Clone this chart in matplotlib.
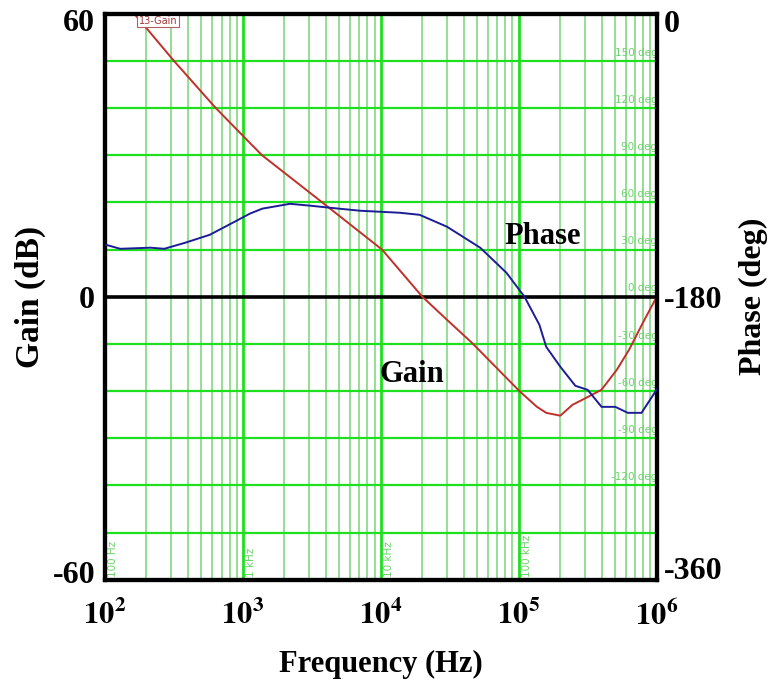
import matplotlib.pyplot as plt
import matplotlib.transforms as mtransforms
import numpy as np

plt.rcParams['mathtext.fontset'] = 'stix'

# loop gain, dB
gain_f = [163, 316, 631, 906, 1150, 1375, 3720, 10200, 20000, 30200, 45700,
          69200, 102000, 135000, 158000, 200000, 245000, 309000, 398000,
          513000, 631000, 794000, 1000000]
gain_db = [60, 50, 40.1, 35.4, 32.3, 30, 20.1, 10, 0, -4.9, -9.75,
           -15.1, -20.1, -23.3, -24.6, -25.2, -22.9, -21.4, -19.7,
           -15.5, -11.2, -5.5, 0]

# loop phase, deg
phase_f = [102, 129, 214, 269, 380, 575, 871, 1120, 1380, 2190, 3090,
           4270, 7080, 13800, 19100, 30200, 52500, 81300, 110000, 141000,
           158000, 200000, 257000, 316000, 398000, 501000, 617000, 776000,
           1000000]
phase_deg = [-147, -149.5, -148.8, -149.5, -145.7, -140.6, -132.3, -127.2,
             -124, -120.9, -122.1, -123.4, -125.3, -126.6, -127.9, -135.5,
             -148.8, -164.7, -180, -197.8, -211.8, -224.5, -236.6, -239.2,
             -250, -250, -253.8, -253.8, -239]

decades = [1e2, 1e3, 1e4, 1e5, 1e6]
decade_names = ['100 Hz', '1 kHz', '10 kHz', '100 kHz']
grid_db = [-50, -40, -30, -20, -10, 10, 20, 30, 40, 50]
grid_names = ['-120 deg', '-90 deg', '-60 deg', '-30 deg', '0 deg',
              '30 deg', '60 deg', '90 deg', '120 deg', '150 deg']
grid_names_db = [-40, -30, -20, -10, 0, 10, 20, 30, 40, 50]

bright = '#1ee01e'
pale = '#8cdc8c'
label_green = '#6cd36c'
serif = 'Liberation Serif'

fig = plt.figure(figsize=(7.69, 6.83), dpi=100)
ax = fig.add_axes([0.1365, 0.151, 0.7175, 0.829])
ax.set_xscale('log')
ax.set_xlim(1e2, 1e6)
ax.set_ylim(-60, 60)

# minor frequency lines
for d in decades[:-1]:
    for k in range(2, 10):
        ax.axvline(d * k, color=pale, lw=1.3, zorder=1)
for d in decades:
    ax.axvline(d, color=bright, lw=2, zorder=1.2)
for g in grid_db:
    ax.axhline(g, color=bright, lw=1.6, zorder=1.2)
ax.axhline(0, color='black', lw=2.6, zorder=2)

# scope labels on the grid
for g, s in zip(grid_names_db, grid_names):
    ax.text(1.01e6, g + 0.7, s, fontsize=7.5, color=label_green,
            ha='right', va='bottom', family='DejaVu Sans', zorder=1.5,
            clip_on=True)
for d, s in zip(decades, decade_names):
    ax.text(d * 1.05, -59.3, s, rotation=90, fontsize=7.5,
            color=label_green, ha='left', va='bottom',
            family='DejaVu Sans', zorder=1.5)

ax.plot(gain_f, gain_db, color='#c0302a', lw=1.4, zorder=3)
ax.text(176, 59.6, '13-Gain', fontsize=7, color='#a03838', ha='left',
        va='top', family='DejaVu Sans', zorder=4,
        bbox=dict(facecolor='white', edgecolor='#b06060', pad=1.2, lw=0.8))

ax2 = ax.twinx()
ax2.set_ylim(-360, 0)
ax2.plot(phase_f, phase_deg, color='#1c1c96', lw=1.4, zorder=3)

ax.text(1.5e5, 12.7, 'Phase', fontsize=22, fontweight='bold', family=serif,
        ha='center', va='center', zorder=5)
ax.text(1.68e4, -16.5, 'Gain', fontsize=22, fontweight='bold', family=serif,
        ha='center', va='center', zorder=5)

ax.set_yticks([-60, 0, 60])
ax.set_yticklabels(['-60', '0', '60'], fontsize=23, fontweight='bold',
                   family=serif)
ax2.set_yticks([-360, -180, 0])
ax2.set_yticklabels(['-360', '-180', '0'], fontsize=23, fontweight='bold',
                    family=serif)
ax.set_xticks(decades)
ax.set_xticklabels([r'$\mathbf{10^{%d}}$' % k for k in range(2, 7)],
                   fontsize=22)
ax.minorticks_off()
ax.tick_params(length=0, pad=7)
ax.tick_params(axis='x', pad=14)
ax2.tick_params(length=0, pad=5)

# pull the end labels inward a little
shifts = {'60': -6, '-60': 8, '0': -7, '-360': 12}
for lbl in ax2.get_yticklabels():
    dy = shifts.get(lbl.get_text(), 0)
    lbl.set_transform(lbl.get_transform() + mtransforms.ScaledTranslation(
        0, dy / 100, fig.dpi_scale_trans))
for lbl in ax.get_yticklabels():
    if lbl.get_text() in ('60', '-60'):
        dy = shifts[lbl.get_text()]
        lbl.set_transform(lbl.get_transform() + mtransforms.ScaledTranslation(
            0, dy / 100, fig.dpi_scale_trans))

ax.set_xlabel('Frequency (Hz)', fontsize=22, fontweight='bold', family=serif,
              labelpad=13)
ax.set_ylabel('Gain (dB)', fontsize=24, fontweight='bold', family=serif,
              labelpad=5)
ax2.set_ylabel('Phase (deg)', fontsize=23, fontweight='bold', family=serif,
               labelpad=12)

for a in (ax, ax2):
    for sp in a.spines.values():
        sp.set_linewidth(3)
        sp.set_color('black')

fig.savefig('out.png', dpi=100)
